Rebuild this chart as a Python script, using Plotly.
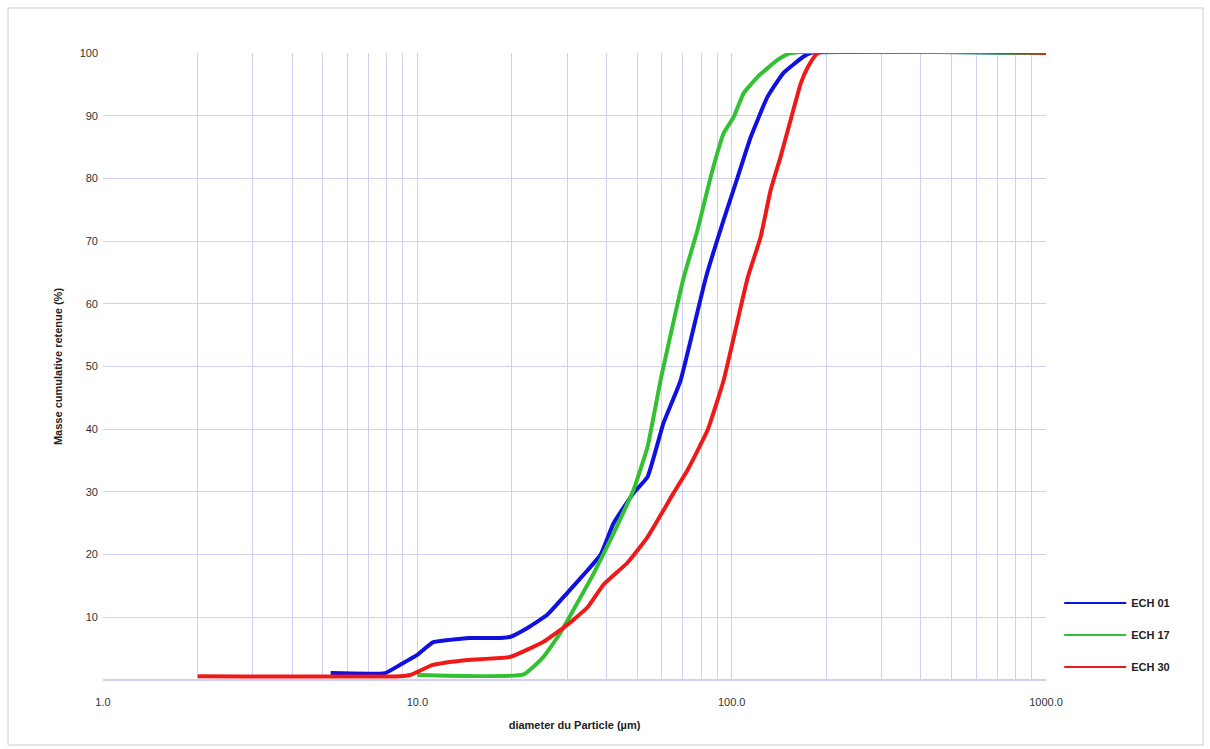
import plotly.graph_objects as go

# ECH 01 (blue)
ech01_x = [5.3, 7.9, 8.8, 10.0, 11.2, 12.7, 14.7, 18.4, 19.8, 22.4, 25.9, 30.0, 34.8, 38.3, 42.1,
           48.7, 54.0, 60.7, 68.8, 82.6, 94.3, 104.5, 115, 130, 146, 169, 178, 1000]
ech01_y = [1.1, 1.1, 2.4, 4.0, 6.0, 6.4, 6.7, 6.7, 6.9, 8.3, 10.4, 13.9, 17.5, 20.0, 25.0,
           29.8, 32.4, 41.0, 47.8, 64.0, 73.4, 80.2, 86.6, 93.0, 96.8, 99.4, 100, 100]

# ECH 17 (green)
ech17_x = [10.0, 21.8, 25.2, 28.5, 32.3, 36.4, 42.1, 48.7, 54.0, 59.4, 70.3, 77.9, 85.7, 94.3,
           101.5, 109.2, 121, 140, 154, 1000]
ech17_y = [0.8, 0.9, 3.7, 7.5, 12.3, 17.0, 23.4, 30.3, 37.2, 47.8, 64.1, 71.8, 80.2, 87.2,
           89.8, 93.6, 96.2, 98.9, 100, 100]

# ECH 30 (red)
ech30_x = [2.0, 8.8, 9.5, 11.2, 14.4, 19.8, 25.2, 30.0, 34.8, 39.1, 46.6, 54.0, 65.3, 72.4,
           83.9, 94.3, 112.4, 123.7, 133, 143, 154, 166, 175, 188, 1000]
ech30_y = [0.6, 0.6, 0.8, 2.4, 3.2, 3.7, 6.1, 8.8, 11.6, 15.2, 18.7, 22.8, 29.8, 33.5,
           39.9, 47.8, 64.1, 70.7, 78.1, 83.4, 89.3, 95.2, 97.8, 100, 100]

x_tickvals = [1, 10, 100, 1000]
x_ticktext = ["1.0", "10.0", "100.0", "1000.0"]
x_minor = [m * d for d in (1, 10, 100) for m in range(2, 10)]
y_tickvals = [10, 20, 30, 40, 50, 60, 70, 80, 90, 100]

series = [
    ("ECH 01", ech01_x, ech01_y, "#1010e0"),
    ("ECH 17", ech17_x, ech17_y, "#33c033"),
    ("ECH 30", ech30_x, ech30_y, "#ee1a1a"),
]

fig = go.Figure()
for name, xs, ys, col in series:
    fig.add_trace(go.Scatter(x=xs, y=ys, mode="lines", name=name, showlegend=False,
                             line=dict(color=col, width=4, shape="spline", smoothing=0.4)))
for name, xs, ys, col in series:
    # legend entries drawn with the thinner line style of the reference legend
    fig.add_trace(go.Scatter(x=[None], y=[None], mode="lines", name=name, legendgroup=name,
                             line=dict(color=col, width=2)))

grid = "#cfd0f2"
tickfont = dict(size=11, color="#333333", family="Liberation Sans, Arial, sans-serif")
fig.update_layout(
    width=1210, height=749,
    margin=dict(l=103, r=164, t=53, b=69),
    paper_bgcolor="white", plot_bgcolor="white",
    font=dict(family="Liberation Sans, Arial, sans-serif", size=11, color="#333333"),
    showlegend=True,
    legend=dict(x=1.014, y=0.146, xanchor="left", yanchor="top", tracegroupgap=13, itemwidth=62,
                font=dict(size=11, color="#222222", family="Liberation Sans, Arial, sans-serif",
                          weight="bold"),
                bgcolor="rgba(0,0,0,0)"),
    xaxis=dict(type="log", range=[0, 3], tickvals=x_tickvals, ticktext=x_ticktext, tickfont=tickfont,
               showgrid=True, gridcolor=grid, gridwidth=1, zeroline=False,
               showline=False, ticks="", ticklabelstandoff=14,
               minor=dict(tickvals=x_minor, showgrid=True, gridcolor=grid, gridwidth=1, ticks=""),
               title=dict(text="<b>diameter du Particle (µm)</b>", font=dict(size=11, color="#222222"),
                          standoff=14)),
    yaxis=dict(range=[0, 100], tickvals=y_tickvals, tickfont=tickfont, showgrid=True, gridcolor=grid,
               gridwidth=1, zeroline=True, zerolinecolor=grid, showline=False, ticks="",
               ticklabelstandoff=4,
               title=dict(text="<b>Masse cumulative retenue (%)</b>", font=dict(size=11, color="#222222"),
                          standoff=14)),
    shapes=[dict(type="rect", xref="paper", yref="paper", x0=-0.1007, x1=1.1665, y0=-0.1037, y1=1.0718,
                 line=dict(color="#cccccc", width=1), fillcolor="rgba(0,0,0,0)", layer="below")],
)
fig.write_html("out.html")
